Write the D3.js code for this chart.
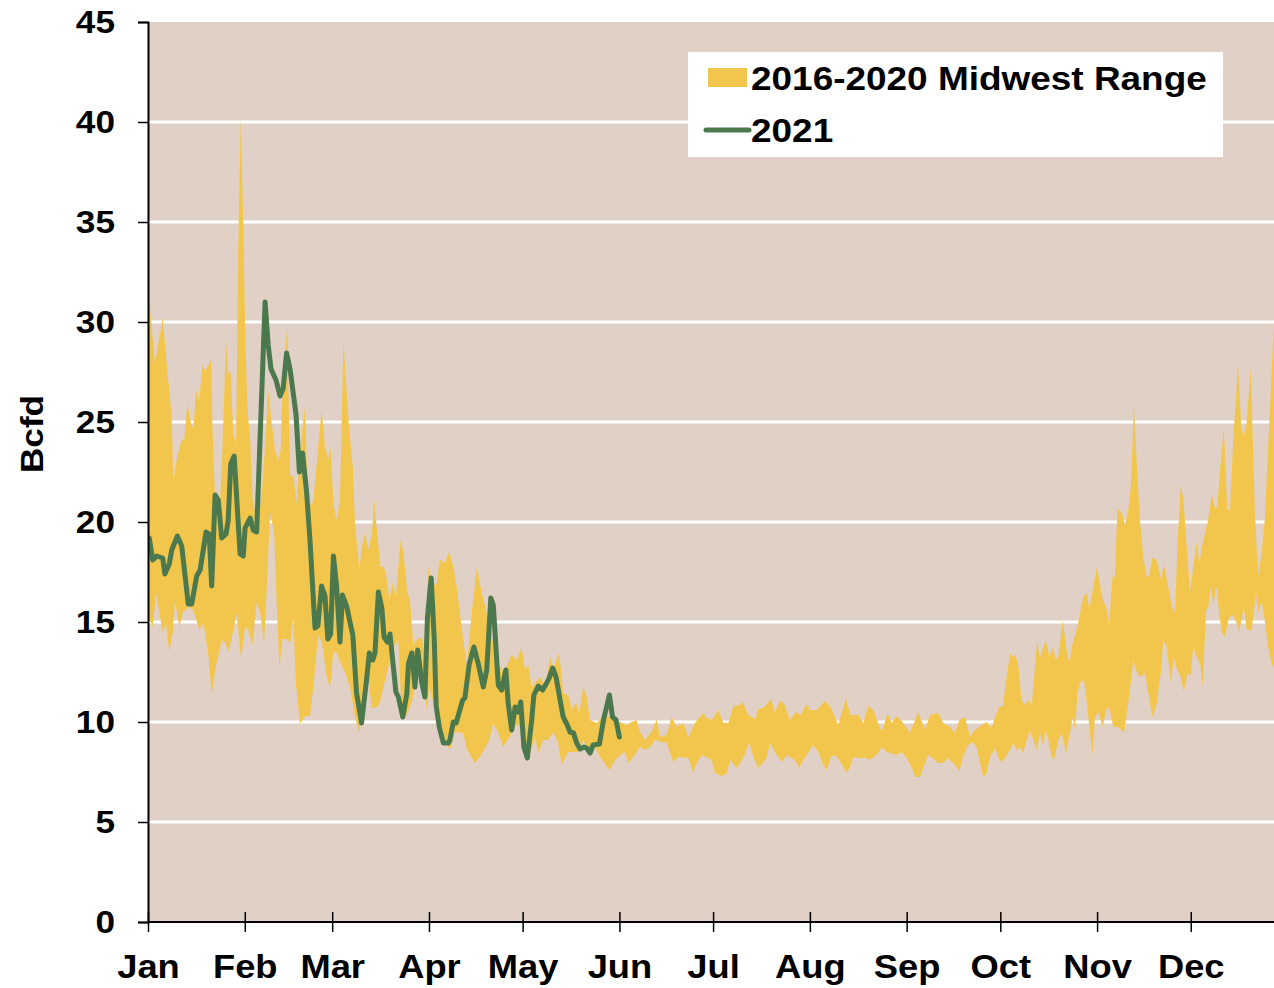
<!DOCTYPE html>
<html>
<head>
<meta charset="utf-8">
<script src="https://cdn.jsdelivr.net/npm/d3@7"></script>
<style>
  body { margin: 0; background: #fff; }
  svg { display: block; font-family: 'Liberation Sans', Arial, sans-serif; font-weight: bold; }
</style>
</head>
<body>
<svg></svg>
<script>
const months = ['Jan', 'Feb', 'Mar', 'Apr', 'May', 'Jun', 'Jul', 'Aug', 'Sep', 'Oct', 'Nov', 'Dec'];
const monthStartDays = [0, 31, 59, 90, 120, 151, 181, 212, 243, 273, 304, 334];
const yTicks = [0, 5, 10, 15, 20, 25, 30, 35, 40, 45];

// [day of year, Bcfd] - top edge of the 2016-2020 range
const rangeHigh = [
  [0, 31.9], [2.2, 27.9], [4.7, 30.2], [6, 27.9], [7.6, 25.2], [8.1, 22], [9.4, 23.3], [10.8, 24.1],
  [11.6, 24.1], [12.6, 25.9], [13.7, 25], [14.5, 24.65], [15.4, 26.55], [16.4, 26.1], [17.5, 27.9],
  [18.3, 27.5], [20.2, 28.1], [20.7, 24.4], [21.5, 21.2], [23.1, 21], [23.9, 23.9], [25, 29.05],
  [25.7, 27.4], [26.5, 27.5], [27.3, 24.4], [28.2, 23.9], [28.9, 33.45], [29.7, 40.2], [30.5, 35],
  [31.2, 29], [31.9, 25.6], [32.7, 24.15], [33.5, 21.1], [34.3, 20.5], [35.3, 19.9], [36.5, 21.5],
  [37.5, 23.75], [38.5, 26.6], [39.6, 25], [40.7, 23.55], [41.7, 23.05], [42.5, 23.55], [43.3, 27.6],
  [44.6, 29.7], [45.5, 22.3], [46.5, 22.3], [47.6, 20.9], [48.7, 23.55], [50.3, 25.8], [51.3, 20.7],
  [52.9, 21], [55.6, 25.6], [56.7, 23.75], [57.8, 23.15], [58.5, 23.75], [59.4, 20.85], [60.4, 20.1],
  [61.5, 21.1], [62.6, 29], [64.2, 25.1], [65.6, 22.75], [66.3, 19.9], [67.7, 17.6], [68.5, 18.75],
  [69.5, 19.45], [70.6, 18.6], [71.7, 19.45], [72.5, 21.1], [73.4, 19.45], [74.5, 17.75], [75.6, 17.75],
  [76.5, 17.1], [77.3, 16.1], [78.4, 16.95], [79.4, 16.25], [80.9, 19.1], [81.8, 18.45], [83.1, 16.45],
  [83.9, 16.1], [85, 13.85], [86.1, 14.1], [87.7, 14.25], [88.7, 13.45], [89.8, 17.75], [90.9, 16.75],
  [92.5, 16.95], [93.5, 18.1], [95.1, 17.95], [96.5, 18.5], [97.8, 17.75], [98.9, 16.75], [99.9, 15.45],
  [101, 14.1], [102.1, 12.75], [103.7, 15.45], [105.3, 17.75], [106.9, 16.45], [108.5, 15.45],
  [111.7, 13.1], [113.8, 12.45], [116.5, 13.35], [118.1, 13.1], [119.7, 13.7], [120.8, 12.6],
  [121.8, 12.85], [122.9, 11.75], [125.6, 12.25], [127.2, 11.75], [128.8, 13.25], [129.8, 12.7],
  [131.7, 13.45], [133, 11.45], [134.6, 11.35], [135.7, 10.6], [137.1, 10.95], [138.2, 10.45],
  [139.4, 11.75], [140.5, 11.25], [141.6, 10.1], [143.7, 9.95], [145.3, 10.2], [148, 10.3],
  [151.2, 10], [153.3, 9.85], [154.9, 10], [156.5, 10.1], [157.6, 9.5], [159.2, 9.1], [161.3, 9.5],
  [162.9, 10.1], [164, 9.25], [166.1, 9.35], [167.7, 10.25], [169.3, 9.75], [171.5, 9.95], [173.1, 9.25],
  [175.2, 9.95], [177.7, 10.45], [178.9, 10.2], [180.6, 10.1], [182.7, 10.6], [184.3, 9.95], [185.9, 9.95],
  [187.5, 10.8], [189.6, 10.85], [190.5, 11], [192.3, 10.35], [194.4, 10.15], [195.5, 10.65], [197.1, 10.7],
  [199.6, 11.15], [200.8, 10.45], [202.4, 11.05], [203.7, 10.95], [205.6, 10.1], [207.6, 10.5],
  [209.1, 10.35], [210.8, 10.9], [212, 10.6], [214.2, 10.6], [216.8, 11.05], [218.7, 10.75], [221.1, 9.85],
  [223.6, 11.2], [224.9, 10.35], [227.5, 10.35], [229.1, 9.95], [230.7, 10.8], [232.3, 10.6], [235, 9.5],
  [236.9, 10.45], [238.2, 9.95], [239.6, 10.3], [241.7, 10], [244.1, 9.45], [246.7, 10.5], [248.9, 9.6],
  [250.5, 10.35], [253.1, 10.45], [254.7, 9.95], [256.9, 9.75], [258.5, 9.45], [259.9, 10.1],
  [261.7, 10.25], [263.3, 9.25], [264.9, 9.6], [268.6, 10], [270.2, 9.7], [271.3, 10.25], [272.7, 10.8],
  [273.8, 10.75], [274.8, 12], [276.1, 13.4], [277.2, 13.25], [277.8, 13.4], [278.8, 12.75], [279.8, 11.1],
  [280.9, 10.85], [282, 11.1], [283.1, 10.85], [283.8, 12.25], [284.8, 14], [285.7, 13.2], [286.8, 13.75],
  [287.6, 14.1], [288.7, 13.25], [289.8, 13.7], [290.8, 13.1], [291.7, 13.35], [293, 15.1], [294.3, 13.5],
  [295.1, 12.95], [296.2, 13.95], [297.2, 14.45], [298, 15], [299.6, 16.25], [300.7, 16.45], [301.5, 15.6],
  [302.8, 16.75], [303.9, 17.7], [304.7, 17.1], [305.8, 16.1], [306.9, 15.75], [307.9, 14.95],
  [309, 17.35], [309.7, 17.2], [310.5, 20.7], [311.9, 20.45], [312.9, 19.85], [314, 20.6], [314.8, 21.75],
  [315.8, 25.9], [316.7, 22.95], [317.7, 20.1], [318.8, 18.25], [319.9, 17.2], [320.7, 17.35],
  [321.8, 18.25], [323.3, 18], [324.4, 17.15], [325.4, 17.85], [326.8, 16.75], [327.9, 15.75], [329, 15.45],
  [329.7, 18.75], [330.8, 21.8], [331.6, 21.25], [332.7, 18.75], [333.8, 16.45], [334.8, 17.75], [335.9, 19],
  [336.7, 17.9], [337.8, 18.95], [339.6, 20.1], [340.7, 21.35], [341.7, 20.75], [342.5, 20.7], [343.4, 22.6],
  [344.6, 24.7], [345.7, 20.6], [346.6, 20.6], [347.6, 24.1], [349.2, 27.85], [350.1, 25], [350.8, 24.25],
  [351.9, 24.95], [353.2, 27.7], [354.6, 20.25], [355.6, 17.25], [356.7, 18.45], [357.7, 20.1],
  [358.8, 23.75], [360.7, 30.1], [362, 31]
];

// [day of year, Bcfd] - bottom edge of the 2016-2020 range
const rangeLow = [
  [0, 15.3], [1.5, 14.75], [2.6, 16.45], [4.7, 14.5], [5.8, 14.95], [6.8, 13.5], [7.9, 14.45], [8.6, 16.1],
  [10, 14.75], [11.1, 15.45], [12.9, 15.75], [14.5, 15.6], [16.4, 14.6], [17.7, 14.95], [19.3, 13.45],
  [20.4, 11.35], [21.5, 12.6], [23.6, 14.1], [24.7, 14], [25.7, 13.5], [26.8, 14.2], [28.4, 15.45],
  [29.8, 13.2], [31.1, 14.75], [32.1, 14.65], [33.5, 13.85], [34.8, 16], [35.9, 15.5], [37.2, 13.95],
  [38.4, 18], [39.1, 20.5], [40.4, 19.5], [41.2, 16], [42.1, 12.75], [43.1, 14.15], [44.4, 14.15],
  [45.5, 13.95], [46.5, 15.2], [47.4, 11.9], [48.7, 9.9], [50.3, 10.3], [51.9, 10.3], [52.9, 11.7],
  [54.5, 14.35], [55.7, 14], [57.2, 12.3], [58.3, 11.7], [59.4, 13.55], [60.5, 13.45], [61.5, 13],
  [63.1, 12.5], [64.7, 11.75], [66.3, 10.25], [67.7, 9.45], [69, 10.95], [70.6, 12.1], [71.7, 10.7],
  [73.3, 10.75], [74.3, 10.95], [75.4, 11.75], [77, 12.75], [78.6, 13.75], [80.2, 14.1], [81.3, 10.25],
  [82.9, 10.35], [84.5, 11], [86.1, 12.6], [88.2, 12.1], [89.3, 10.6], [90.3, 11.75], [91.4, 10.95],
  [93.5, 9.6], [95.1, 9.1], [96.7, 8.6], [98.3, 9.5], [101, 9.45], [102.1, 8.65], [104.7, 7.95],
  [106.3, 8.25], [109.3, 9.1], [110.6, 9.95], [112.2, 9.45], [113.8, 8.75], [116.5, 9.45], [118.1, 9.9],
  [119.7, 9.6], [121.3, 8.1], [122.4, 8.45], [124, 9.25], [125, 8.45], [126.6, 9.1], [128.2, 9.1],
  [129.8, 9.5], [131.4, 8.95], [132.5, 7.85], [134.6, 8.5], [137.8, 8.5], [139.4, 9.1], [140.5, 8.75],
  [143.2, 8.75], [144.8, 8.25], [146.7, 7.85], [147.8, 7.6], [149.6, 8.1], [151.2, 8.35], [152.8, 8.5],
  [153.8, 7.95], [155.4, 8.25], [157.6, 8.75], [159.2, 8.6], [160.8, 8.75], [162.4, 9.1], [166.1, 8.95],
  [168.3, 8], [169.9, 8.25], [173.1, 8.2], [174.5, 7.5], [175.8, 7.95], [177.4, 8.35], [180.6, 8.1],
  [181.6, 7.45], [183.8, 7.3], [185.4, 7.45], [186.4, 8.1], [188.6, 7.7], [190.7, 8.2], [192.6, 9],
  [193.9, 8.25], [195.5, 7.7], [198.2, 8.2], [199.2, 8.95], [200.5, 8.6], [201.4, 8.35], [203, 8],
  [204.6, 8.35], [207.2, 8.1], [208.6, 7.7], [209.9, 8.1], [213.1, 8.85], [214.7, 8.5], [216.3, 7.85],
  [217.4, 7.6], [218.7, 8.25], [220.1, 8.35], [221.4, 8.1], [223.8, 7.45], [224.9, 7.75], [225.9, 8.25],
  [227.9, 8.2], [230, 8.2], [231, 8.1], [233.4, 8.35], [235, 8.75], [236.6, 8.5], [239.8, 8.35],
  [241.4, 8.5], [243, 8.2], [244.6, 7.75], [245.7, 7.25], [247.3, 7.25], [248.9, 7.95], [249.9, 8.35],
  [251.3, 8.2], [253.1, 7.95], [254.7, 7.95], [256.3, 8.2], [258.5, 7.85], [259.9, 7.5], [261.1, 8.35],
  [262.7, 8.85], [264.3, 9], [265.4, 8.75], [267.5, 7.25], [268.6, 7.45], [269.7, 8.25], [271.3, 8.7],
  [272.4, 8.2], [273.4, 8], [274.8, 8.25], [277.2, 8.95], [278.2, 8.6], [279.3, 8.75], [280.2, 8.45],
  [281.5, 9.1], [282.5, 9.6], [284.7, 8.6], [285.7, 9.45], [286.6, 8.85], [287.6, 9.6], [288.4, 9.1],
  [289.5, 8.25], [290.2, 8.1], [291.6, 9.1], [292.7, 9.45], [294.1, 8.45], [296.2, 10.25], [296.9, 9.6],
  [297.7, 11.45], [298.7, 12], [299.8, 12.1], [300.9, 10.75], [301.7, 9.45], [302.6, 8.35], [303.3, 10.25],
  [304.4, 10.5], [305.8, 9.75], [306.9, 10.6], [307.9, 10.75], [309.2, 9.75], [310.8, 9.75], [312.6, 9.45],
  [314, 10.95], [315.6, 13.1], [316.9, 12.4], [318.2, 12.25], [319.3, 12.45], [320.4, 11.45],
  [321.8, 10.25], [323.1, 10.95], [324.4, 12.45], [325.2, 14.1], [326.3, 13.75], [327.6, 12],
  [328.6, 13.25], [329.7, 12.6], [330.8, 12.25], [331.8, 11.5], [332.9, 12.45], [334, 12.35],
  [334.8, 13.75], [335.9, 13.25], [337, 12.95], [337.8, 11.75], [338.9, 15.6], [339.6, 15.7],
  [340.4, 16.75], [341.2, 15.95], [342.3, 16.75], [343.1, 15.45], [343.9, 14.5], [344.9, 14.25],
  [346.3, 15.25], [347.6, 15.35], [348.7, 14.95], [349.5, 14.5], [351, 15.75], [351.9, 14.6],
  [353.5, 14.6], [354.9, 16.45], [355.6, 15.45], [356.7, 16.1], [357.7, 15.1], [358.8, 13.75],
  [359.9, 12.95], [360.7, 12.7], [362, 12.5]
];

// [day of year, Bcfd] - 2021
const flow2021 = [
  [0.4, 19.2], [1.5, 18.1], [2.8, 18.3], [4.7, 18.2], [5.4, 17.4], [6.8, 17.9], [7.6, 18.6], [9.4, 19.3],
  [10.8, 18.8], [12.9, 15.9], [14, 15.9], [15.6, 17.3], [16.7, 17.6], [18.6, 19.5], [19.6, 19.4],
  [20.4, 16.8], [21.5, 21.35], [22.5, 21.1], [23.6, 19.2], [25, 19.4], [25.7, 20.1], [26.5, 22.9],
  [27.6, 23.3], [29.5, 18.4], [30.5, 18.3], [31.1, 19.7], [32.7, 20.2], [33.7, 19.6], [34.8, 19.5],
  [37.5, 31], [38.5, 28.85], [39.4, 27.65], [41, 27.1], [42.3, 26.3], [43.3, 26.7], [44.4, 28.45],
  [45.5, 27.65], [47.4, 25.4], [48.5, 22.5], [49.5, 23.45], [50.8, 21.5], [51.9, 19.05], [53.5, 14.7],
  [54.4, 14.8], [55.6, 16.8], [56.7, 16.3], [57.6, 14.15], [58.5, 14.4], [59.4, 18.3], [60.4, 16.8],
  [61.5, 14], [62.3, 16.35], [63.6, 15.8], [65.6, 14.35], [66.8, 11.45], [68.4, 9.95], [70, 12.1],
  [70.9, 13.45], [72, 13.1], [72.7, 13.45], [73.8, 16.5], [74.9, 15.7], [75.6, 14.25], [76.7, 14],
  [77.5, 14.4], [78.8, 12.45], [79.4, 11.5], [80.2, 11.25], [81.6, 10.25], [82.9, 11.4], [83.4, 12.9],
  [84.5, 13.45], [85.5, 11.75], [86.4, 13.6], [87.7, 11.95], [88.7, 11.25], [89.5, 15.2], [90.7, 17.2],
  [91.7, 14.1], [92.3, 10.8], [93.3, 9.75], [94.6, 8.95], [96.2, 8.95], [96.7, 9.1], [97.8, 10],
  [98.7, 9.95], [99.7, 10.5], [100.8, 11.1], [101.5, 11.2], [102.9, 12.9], [104.4, 13.75], [105.8, 12.9],
  [107.4, 11.75], [108.5, 12.6], [109.8, 16.2], [110.6, 15.85], [112.2, 11.85], [113.3, 11.6],
  [114.6, 12.6], [115.4, 10.9], [116.5, 9.6], [117.6, 10.75], [118.6, 10.5], [119.4, 11], [120.4, 8.75],
  [121.5, 8.2], [122.9, 10.1], [123.6, 11.35], [125, 11.8], [126.4, 11.6], [127.7, 11.95], [128.5, 12.2],
  [129.6, 12.7], [130.7, 12.25], [132, 11.1], [133, 10.25], [134.3, 9.85], [135.2, 9.5], [136.3, 9.45],
  [137.3, 8.95], [138.4, 8.65], [139.7, 8.75], [140.5, 8.7], [141.6, 8.45], [142.6, 8.85], [144.6, 8.9],
  [145.9, 10.1], [147.8, 11.35], [148.8, 10.25], [149.9, 10.1], [151, 9.25]
];

const svgWidth = 1274;
const svgHeight = 988;
const plotLeft = 148;
const plotTop = 22;
const plotBottom = 922;
const pxPerDay = 3.122;
const stretch = 'scale(1.1,1)';

const svg = d3.select('svg').attr('width', svgWidth).attr('height', svgHeight);

const xScale = d3.scaleLinear().domain([0, 365]).range([plotLeft, plotLeft + 365 * pxPerDay]);
const yScale = d3.scaleLinear().domain([0, 45]).range([plotBottom, plotTop]);

svg.append('defs').append('clipPath').attr('id', 'plot')
  .append('rect')
  .attr('x', plotLeft).attr('y', plotTop)
  .attr('width', svgWidth - plotLeft).attr('height', plotBottom - plotTop);

// plot background
svg.append('rect')
  .attr('x', plotLeft).attr('y', yScale(45))
  .attr('width', svgWidth - plotLeft).attr('height', yScale(0) - yScale(45))
  .attr('fill', '#e0d0c5');

// gridlines
svg.append('g')
  .selectAll('line')
  .data(yTicks.filter((d) => d > 0 && d < 45))
  .enter()
  .append('line')
  .attr('x1', plotLeft).attr('x2', svgWidth)
  .attr('y1', (d) => yScale(d)).attr('y2', (d) => yScale(d))
  .attr('stroke', '#fff').attr('stroke-width', 3);

const plot = svg.append('g').attr('clip-path', 'url(#plot)');

// range band: top edge forward, bottom edge back
const edge = d3.line().x((d) => xScale(d[0])).y((d) => yScale(d[1]));
plot.append('path')
  .attr('d', edge(rangeHigh.concat(rangeLow.slice().reverse())) + 'Z')
  .attr('fill', '#f2c64c');

plot.append('path')
  .datum(flow2021)
  .attr('d', edge)
  .attr('fill', 'none')
  .attr('stroke', '#4b784c')
  .attr('stroke-width', 5)
  .attr('stroke-linejoin', 'round')
  .attr('stroke-linecap', 'round');

// axes
const yAxis = d3.axisLeft(yScale).tickValues(yTicks).tickSize(10).tickPadding(20);
const gy = svg.append('g').attr('transform', 'translate(' + plotLeft + ',0)').call(yAxis);

const xAxis = d3.axisBottom(xScale)
  .tickValues(monthStartDays)
  .tickFormat((d, i) => months[i])
  .tickSize(10)
  .tickPadding(23);
const gx = svg.append('g').attr('transform', 'translate(0,' + plotBottom + ')').call(xAxis);
gx.selectAll('.tick line').attr('y1', -10).attr('y2', 10);

[gx, gy].forEach((g) => {
  g.select('.domain').attr('stroke', '#000').attr('stroke-width', 2);
  g.selectAll('.tick line').attr('stroke', '#000').attr('stroke-width', 1.5);
  g.selectAll('.tick text')
    .attr('fill', '#000')
    .attr('transform', stretch)
    .style('font-family', "'Liberation Sans', Arial, sans-serif")
    .style('font-weight', 'bold');
});
gy.selectAll('.tick text').style('font-size', '32px');
gx.selectAll('.tick text').style('font-size', '33px');
gx.select('.domain').attr('d', 'M' + plotLeft + ',0H' + svgWidth);

svg.append('text')
  .attr('transform', 'translate(43,434) rotate(-90) ' + stretch)
  .attr('text-anchor', 'middle')
  .style('font-size', '32px')
  .text('Bcfd');

// legend
const legend = svg.append('g');
legend.append('rect')
  .attr('x', 688).attr('y', 52).attr('width', 535).attr('height', 105)
  .attr('fill', '#fff');
legend.append('rect')
  .attr('x', 708).attr('y', 68).attr('width', 39).attr('height', 19)
  .attr('fill', '#f2c64c');
legend.append('line')
  .attr('x1', 706).attr('x2', 749).attr('y1', 130).attr('y2', 130)
  .attr('stroke', '#4b784c').attr('stroke-width', 5).attr('stroke-linecap', 'round');
legend.append('text')
  .attr('transform', 'translate(751,90) scale(1.12,1)')
  .style('font-size', '33px')
  .text('2016-2020 Midwest Range');
legend.append('text')
  .attr('transform', 'translate(751,142) scale(1.12,1)')
  .style('font-size', '33px')
  .text('2021');
</script>
</body>
</html>
